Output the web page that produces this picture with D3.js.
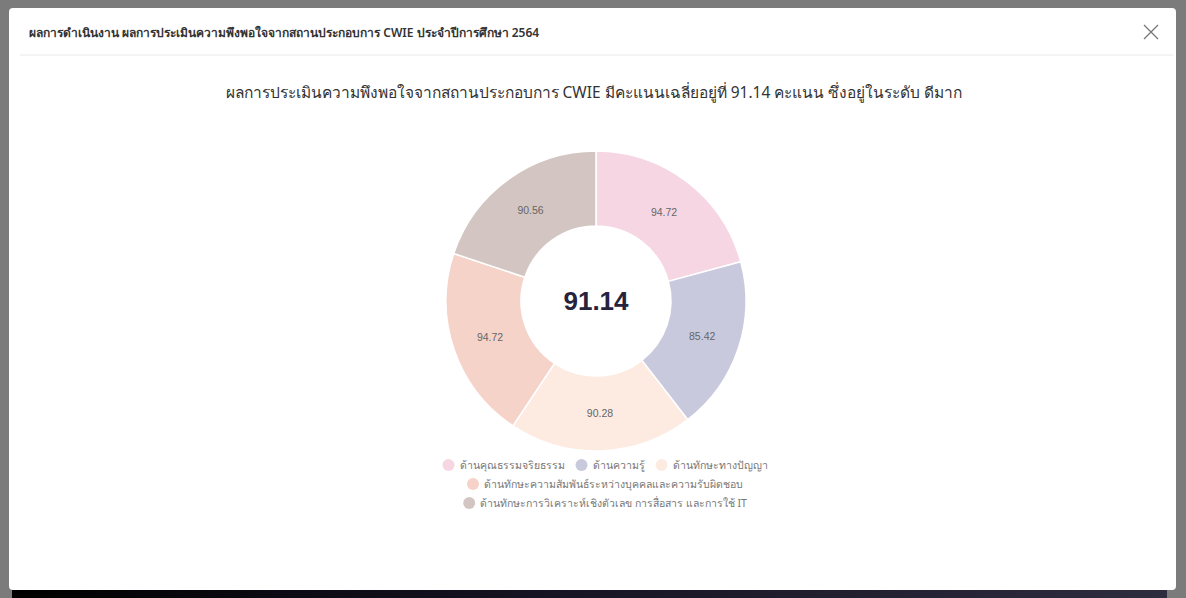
<!DOCTYPE html>
<html>
<head>
<meta charset="utf-8">
<script src="https://cdn.jsdelivr.net/npm/d3@7"></script>
<style>
  html, body { margin: 0; padding: 0; background: #7b7b7b; }
  svg { display: block; }
</style>
</head>
<body>
<script>
// data
var categories = ["ด้านคุณธรรมจริยธรรม", "ด้านความรู้", "ด้านทักษะทางปัญญา",
                  "ด้านทักษะความสัมพันธ์ระหว่างบุคคลและความรับผิดชอบ",
                  "ด้านทักษะการวิเคราะห์เชิงตัวเลข การสื่อสาร และการใช้ IT"];
var scores = [94.72, 85.42, 90.28, 94.72, 90.56];
var sliceColors = ["#f6d6e2", "#c9c9dd", "#fdebe2", "#f6d3c9", "#d3c6c2"];
var average = 91.14;
var legendRows = [[0, 1, 2], [3], [4]];

var W = 1186, H = 598;
var thai = "'Noto Sans', 'DejaVu Sans', sans-serif";
var latin = "'Liberation Sans', Arial, sans-serif";

var svg = d3.select("body").append("svg")
    .attr("width", W)
    .attr("height", H);

// dark strip under the modal
var grad = svg.append("defs").append("linearGradient")
    .attr("id", "strip").attr("x1", "0").attr("x2", "1");
grad.append("stop").attr("offset", "0").attr("stop-color", "#000");
grad.append("stop").attr("offset", "0.4").attr("stop-color", "#14111f");
grad.append("stop").attr("offset", "1").attr("stop-color", "#2e2d3e");
svg.append("rect").attr("x", 12).attr("y", 590).attr("width", 1155).attr("height", 8)
    .attr("fill", "url(#strip)");

// modal box
svg.append("rect")
    .attr("x", 9).attr("y", 8).attr("width", 1167).attr("height", 582)
    .attr("rx", 4)
    .attr("fill", "#fff");

// header
svg.append("text")
    .attr("x", 29).attr("y", 37)
    .attr("font-family", thai).attr("font-size", 12).attr("font-weight", 600)
    .attr("fill", "#333")
    .text("ผลการดำเนินงาน ผลการประเมินความพึงพอใจจากสถานประกอบการ CWIE ประจำปีการศึกษา 2564");

svg.append("line")
    .attr("x1", 20).attr("x2", 1173).attr("y1", 55).attr("y2", 55)
    .attr("stroke", "#e8e8e8");

// close cross
var cx = 1151, cy = 32, s = 7;
svg.append("path")
    .attr("d", "M" + (cx - s) + "," + (cy - s) + "L" + (cx + s) + "," + (cy + s) +
               "M" + (cx + s) + "," + (cy - s) + "L" + (cx - s) + "," + (cy + s))
    .attr("stroke", "#777").attr("stroke-width", 1.3).attr("fill", "none");

// chart title
svg.append("text")
    .attr("x", 594).attr("y", 98)
    .attr("text-anchor", "middle")
    .attr("font-family", thai).attr("font-size", 15.5)
    .attr("fill", "#333")
    .text("ผลการประเมินความพึงพอใจจากสถานประกอบการ CWIE มีคะแนนเฉลี่ยอยู่ที่ " + average +
          " คะแนน ซึ่งอยู่ในระดับ ดีมาก");

// donut
var R = 150, r = 75;
var g = svg.append("g").attr("transform", "translate(596,301)");

var pie = d3.pie().sort(null).value(function(d) { return d; });
var arc = d3.arc().innerRadius(r).outerRadius(R);
var labelArc = d3.arc().innerRadius(112).outerRadius(112);

var arcs = pie(scores);

g.selectAll("path.slice")
    .data(arcs)
    .enter().append("path")
    .attr("class", "slice")
    .attr("d", arc)
    .attr("fill", function(d, i) { return sliceColors[i]; })
    .attr("stroke", "#fff")
    .attr("stroke-width", 1.5);

g.selectAll("text.val")
    .data(arcs)
    .enter().append("text")
    .attr("class", "val")
    .attr("transform", function(d) { return "translate(" + labelArc.centroid(d) + ")"; })
    .attr("text-anchor", "middle")
    .attr("dy", "0.35em")
    .attr("font-family", latin).attr("font-size", 10.5)
    .attr("fill", "#666")
    .text(function(d) { return d.data.toFixed(2); });

g.append("text")
    .attr("text-anchor", "middle")
    .attr("dy", "0.36em")
    .attr("font-family", latin).attr("font-size", 26).attr("font-weight", "bold")
    .attr("fill", "#27233d")
    .text(average.toFixed(2));

// legend
var rowY = [465, 484, 503];
var legendCenter = 605;
legendRows.forEach(function(row, ri) {
  var lg = svg.append("g");
  var x = 0;
  row.forEach(function(ci) {
    lg.append("circle")
        .attr("cx", x + 6).attr("cy", rowY[ri])
        .attr("r", 6)
        .attr("fill", sliceColors[ci]);
    var t = lg.append("text")
        .attr("x", x + 17).attr("y", rowY[ri])
        .attr("dy", "0.35em")
        .attr("font-family", thai).attr("font-size", 10.5)
        .attr("fill", "#777")
        .text(categories[ci]);
    x += 17 + t.node().getComputedTextLength() + 11;
  });
  var width = x - 11;
  lg.attr("transform", "translate(" + (legendCenter - width / 2) + ",0)");
});
</script>
</body>
</html>
